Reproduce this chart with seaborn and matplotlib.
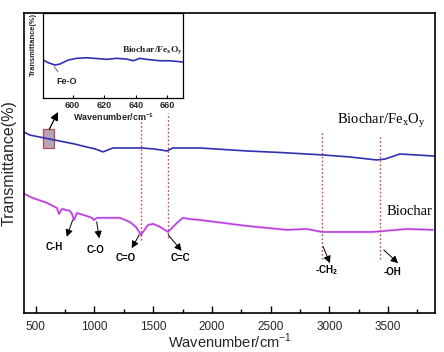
import matplotlib
matplotlib.use("Agg")
import matplotlib.pyplot as plt
import seaborn as sns
import pandas as pd

# ---------------- data ----------------
blue_wn = [400, 451, 579, 707, 834, 936, 1005, 1073, 1158, 1302, 1404, 1498, 1574, 1617,
           1668, 1898, 2298, 2578, 2936, 3174, 3404, 3472, 3600, 3727, 3898]
blue_t = [60.3, 59.3, 58.3, 57.3, 56.3, 55.3, 54.7, 53.7, 55.0, 55.0, 55.0, 54.7, 54.3, 54.0,
          55.0, 55.0, 54.0, 53.5, 52.7, 52.0, 51.0, 51.3, 53.0, 52.7, 52.3]

pink_wn = [400, 477, 596, 681, 698, 724, 792, 809, 826, 851, 936, 979, 996, 1022, 1217,
           1302, 1353, 1396, 1455, 1498, 1558, 1626, 1702, 1753, 1813, 1898, 2298, 2638,
           2808, 2936, 3370, 3659, 3881]
pink_t = [39.7, 38.3, 36.7, 35.0, 33.0, 34.7, 34.0, 33.0, 31.0, 33.3, 32.3, 31.7, 31.0, 31.7,
          31.7, 30.3, 28.7, 26.0, 29.3, 29.7, 28.7, 27.0, 30.0, 31.7, 31.3, 31.0, 29.0, 27.7,
          28.0, 27.0, 27.0, 28.0, 27.7]

inset_wn = [581.5, 584.7, 588.9, 592.0, 597.3, 602.6, 608.9, 617.3, 621.5, 627.9, 634.2,
            638.4, 642.6, 646.8, 655.2, 661.5, 670.0]
inset_t = [38.3, 35.6, 33.3, 34.3, 38.3, 40.0, 40.6, 39.6, 39.0, 40.0, 39.3, 37.6, 40.0,
           39.0, 37.6, 37.6, 36.3]

peak_wn = [1393, 1628, 2933, 3435]
peak_top = [65.3, 66.7, 60.3, 58.7]
peak_bottom = [24.3, 25.0, 18.0, 18.0]

ann_labels = ["C-H", "C-O", "C=O", "C=C", r"-CH$_\mathregular{2}$", "-OH"]
ann_text_xy = [(656, 22.0), (1013, 21.0), (1268, 18.2), (1728, 18.2), (2979, 14.2), (3536, 13.7)]
ann_tail = [(815, 31.0), (1019, 30.4), (1381, 26.0), (1628, 26.0), (2947, 22.1), (3463, 21.0)]
ann_head = [(764, 25.4), (1041, 24.9), (1317, 21.6), (1742, 20.7), (3004, 16.6), (3584, 16.6)]

main_ticks = [500, 1000, 1500, 2000, 2500, 3000, 3500]
minor_ticks = [750, 1250, 1750, 2250, 2750, 3250, 3750]
inset_ticks = [600, 620, 640, 660]

df_blue = pd.DataFrame({"wn": blue_wn, "t": blue_t})
df_pink = pd.DataFrame({"wn": pink_wn, "t": pink_t})
df_inset = pd.DataFrame({"wn": inset_wn, "t": inset_t})

# ---------------- plot ----------------
sns.set_theme(style="white")
plt.rcParams["font.family"] = ["Liberation Sans", "DejaVu Sans"]

BLUE = "#3030b0"
PINK = "#b43cdc"
RED = "#c04848"

fig = plt.figure(figsize=(4.44, 3.52), dpi=100)
ax = fig.add_axes([0.054, 0.111, 0.926, 0.852])

sns.lineplot(data=df_pink, x="wn", y="t", ax=ax, color="#e8b0f4", lw=2.2, alpha=0.5)
sns.lineplot(data=df_pink, x="wn", y="t", ax=ax, color=PINK, lw=1.1)
sns.lineplot(data=df_blue, x="wn", y="t", ax=ax, color=BLUE, lw=1.2)

for w, t0, t1 in zip(peak_wn, peak_top, peak_bottom):
    ax.plot([w, w], [t1, t0], color=RED, lw=1.0, ls=(0, (1.2, 1.6)))

for lab, txy, tail, head in zip(ann_labels, ann_text_xy, ann_tail, ann_head):
    ax.annotate("", xy=head, xytext=tail,
                arrowprops=dict(arrowstyle="-|>,head_length=0.35,head_width=0.18",
                                color="black", lw=0.7, shrinkA=0, shrinkB=0))
    ax.text(txy[0], txy[1], lab, ha="center", va="center", fontsize=7,
            fontweight="bold", color="black")

ax.text(3063, 64.0, r"Biochar/Fe$_\mathregular{x}$O$_\mathregular{y}$",
        family=["Liberation Serif"], fontsize=10.5, ha="left", va="center", color="black")
ax.text(3489, 33.7, "Biochar", family=["Liberation Serif"], fontsize=10.5,
        ha="left", va="center", color="black")

# red box and arrow to inset
ax.add_patch(plt.Rectangle((565, 55.1), 93, 6.2, facecolor="#b8a4b8",
                           edgecolor="#b05050", lw=0.9))
ax.annotate("", xy=(690, 67.0), xytext=(616, 61.3),
            arrowprops=dict(arrowstyle="-|>,head_length=0.4,head_width=0.2",
                            color="black", lw=0.9, shrinkA=0, shrinkB=0))

ax.set_xlim(400, 3900)
ax.set_ylim(0, 100)
ax.set_xticks(main_ticks)
ax.set_xticks(minor_ticks, minor=True)
ax.set_yticks([])
ax.tick_params(axis="x", which="major", direction="in", length=5, width=1,
               labelsize=8.5, pad=6, bottom=True, color="black")
ax.tick_params(axis="x", which="minor", direction="in", length=3, width=1,
               bottom=True, color="black")
ax.set_xlabel(r"Wavenumber/cm$^\mathregular{-1}$", fontsize=10.5, labelpad=-1)
ax.set_ylabel("Transmittance(%)", fontsize=11.5, labelpad=5)
for s in ax.spines.values():
    s.set_color("black")
    s.set_linewidth(1.2)

# ---------------- inset ----------------
axi = fig.add_axes([0.0975, 0.7207, 0.315, 0.243])
sns.lineplot(data=df_inset, x="wn", y="t", ax=axi, color=BLUE, lw=1.2)
axi.set_xlim(581.5, 670)
axi.set_ylim(0, 85.6)
axi.set_xticks(inset_ticks)
axi.set_yticks([])
axi.tick_params(axis="x", direction="in", length=2, width=0.8, labelsize=6.5,
                pad=2, bottom=True, color="black")
for lbl in axi.get_xticklabels():
    lbl.set_fontweight("bold")
axi.set_xlabel(r"Wavenumber/cm$^\mathregular{-1}$", fontsize=6.5, fontweight="bold", labelpad=1)
axi.set_ylabel("Transmittance(%)", fontsize=5.4, fontweight="bold", labelpad=1)
axi.yaxis.set_label_coords(-0.045, 0.63)
for s in axi.spines.values():
    s.set_color("black")
    s.set_linewidth(0.9)
axi.text(631.2, 47, r"Biochar/Fe$_\mathregular{x}$O$_\mathregular{y}$", family=["Liberation Serif"],
         fontsize=6.8, fontweight="bold", ha="left", va="center")
axi.plot([588.5, 590.8], [31.6, 26.6], color="#555555", lw=0.6)
axi.text(596.5, 17, "Fe-O", fontsize=6.5, fontweight="bold", ha="center", va="center")

fig.savefig("out.png", dpi=100)
